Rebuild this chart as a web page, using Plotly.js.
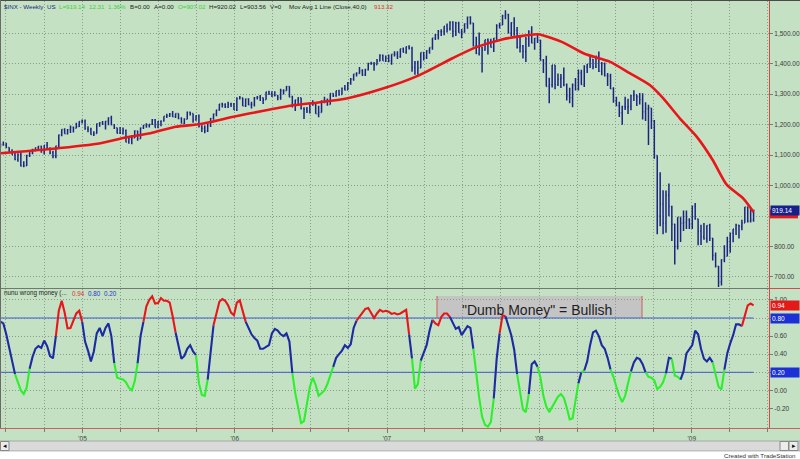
<!DOCTYPE html>
<html><head><meta charset="utf-8">
<script src="https://cdn.plot.ly/plotly-3.0.1.min.js"></script>
<style>html,body{margin:0;padding:0;background:#fff;}#chart{width:800px;height:459px;}</style>
</head><body><div id="chart"></div>
<script>
// ---------- DATA ----------
const firstWeek = '2004-06-18';   // weekly bars, one per week
const opens = [
1136,1135,1134,1125,1113,1101,1086,1102,1064,1065,1099,1108,1114,1124,1129,1110,1132,1122,1108,1096,1130,1166,1184,1170,1183,1191,1188,1194,1210,
1212,1186,1184,1168,1171,1203,1206,1201,1211,1222,1200,1190,1172,1172,1181,1143,1153,1156,1179,1154,1189,1198,1197,1201,1216,1191,1211,1212,1228,1229,1234,1226,1237,1220,1205,1218,1241,1237,1215,1229,1195,1187,1179,1199,1220,1235,1248,1268,1265,1259,1267,1268,
1248,1285,1288,1261,1284,1265,1267,1288,1290,1288,1282,1307,1302,1295,1296,1289,1311,1311,1325,1291,1267,1281,1288,1253,1251,1245,1270,1265,1236,1240,1278,1280,1266,1302,1295,1311,1299,1319,1314,1336,1349,1366,1368,1377,1364,1380,1401,1400,1397,1409,1427,1410,
1418,1410,1431,1431,1423,1449,1438,1456,1451,1388,1402,1386,1437,1421,1443,1453,1485,1495,1506,1505,1523,1515,1536,1507,1533,1503,1503,1531,1553,1534,1459,1434,1453,1445,1479,1474,1454,1484,1525,1527,1557,1562,1501,1535,1509,1453,1458,1440,1481,1504,1468,1484,
1478,1411,1401,1325,1331,1396,1332,1349,1353,1331,1294,1288,1330,1316,1370,1332,1390,1398,1414,1389,1425,1375,1400,1361,1360,1318,1278,1262,1239,1260,1257,1260,1296,1298,1292,1283,1242,1252,1255,1213,1099,899,940,877,968,931,873,800,896,876,879,887,
873,932,890,850,832,826,869,827,770,735,683,756,768,816,843,857,870,866,877,930,883,887];
const highs = [
1138,1145,1141,1126,1119,1108,1106,1111,1080,1101,1109,1121,1125,1130,1131,1132,1143,1126,1114,1131,1168,1185,1188,1186,1197,1194,1206,1211,1217,
1217,1195,1190,1178,1204,1208,1212,1212,1224,1229,1201,1190,1192,1191,1184,1161,1165,1182,1180,1191,1199,1205,1202,1219,1219,1212,1212,1228,1236,1238,1245,1237,1237,1224,1221,1243,1242,1237,1231,1233,1198,1197,1204,1222,1236,1249,1268,1272,1270,1275,1272,1271,
1290,1294,1288,1286,1287,1275,1291,1294,1297,1289,1308,1311,1310,1310,1297,1318,1316,1327,1326,1295,1282,1290,1288,1257,1258,1272,1280,1273,1262,1280,1292,1286,1303,1303,1311,1315,1322,1330,1340,1353,1366,1372,1389,1382,1384,1403,1407,1406,1416,1431,1430,1427,
1430,1431,1441,1441,1449,1453,1457,1461,1456,1409,1410,1437,1439,1444,1453,1485,1498,1511,1513,1523,1532,1540,1540,1538,1538,1514,1532,1555,1556,1534,1489,1503,1456,1479,1483,1482,1485,1530,1535,1561,1576,1564,1536,1553,1521,1492,1462,1488,1510,1523,1485,1498,
1478,1416,1426,1354,1396,1396,1368,1366,1388,1335,1321,1335,1353,1381,1380,1395,1399,1423,1416,1426,1440,1406,1404,1370,1367,1323,1292,1275,1262,1292,1285,1297,1313,1298,1304,1303,1274,1265,1255,1215,1099,1044,985,984,1007,934,875,896,896,918,918,893,
934,943,891,871,877,870,875,828,780,736,758,804,832,845,857,875,871,888,930,930,924,920.02];
const lows = [
1126,1131,1123,1107,1101,1083,1078,1063,1060,1064,1094,1103,1113,1116,1108,1102,1121,1103,1090,1090,1127,1162,1170,1168,1173,1174,1188,1192,1204,
1183,1175,1167,1163,1171,1193,1199,1184,1198,1198,1186,1171,1172,1168,1142,1137,1136,1156,1147,1154,1186,1190,1191,1199,1191,1188,1195,1210,1222,1225,1225,1222,1218,1205,1201,1218,1230,1206,1213,1191,1176,1172,1176,1192,1216,1228,1246,1256,1255,1255,1258,1248,
1245,1283,1261,1258,1264,1253,1260,1283,1278,1268,1282,1297,1291,1294,1280,1282,1299,1311,1290,1256,1245,1262,1250,1219,1238,1237,1262,1236,1224,1240,1270,1262,1266,1291,1292,1295,1299,1312,1314,1331,1344,1358,1367,1360,1360,1378,1397,1377,1397,1408,1410,1406,
1405,1397,1424,1416,1420,1437,1433,1447,1374,1364,1364,1386,1411,1416,1433,1446,1478,1480,1491,1494,1503,1509,1487,1491,1502,1484,1503,1515,1529,1457,1432,1427,1371,1443,1430,1453,1439,1476,1516,1527,1546,1500,1490,1492,1450,1437,1417,1406,1456,1467,1446,1468,
1411,1370,1325,1270,1322,1316,1327,1320,1326,1279,1270,1257,1312,1312,1331,1324,1370,1386,1382,1386,1373,1362,1358,1327,1317,1272,1261,1225,1200,1248,1235,1247,1278,1261,1266,1217,1212,1133,1186,1088,840,866,840,845,899,818,741,790,815,851,857,857,
857,888,804,805,822,812,818,754,731,667,672,748,768,779,814,838,826,853,878,879,879,881];
const closes = [
1135,1134,1125,1113,1101,1086,1102,1064,1065,1099,1108,1114,1124,1129,1110,1132,1122,1108,1096,1130,1166,1184,1170,1183,1191,1188,1194,1210,1212,
1186,1184,1168,1171,1203,1206,1201,1211,1222,1200,1190,1172,1172,1181,1143,1153,1156,1179,1154,1189,1198,1197,1201,1216,1191,1211,1212,1228,1229,1234,1226,1237,1220,1205,1218,1241,1237,1215,1229,1195,1187,1179,1199,1220,1235,1248,1268,1265,1259,1267,1268,1248,
1285,1288,1261,1284,1265,1267,1288,1290,1288,1282,1307,1302,1295,1296,1289,1311,1311,1325,1291,1267,1281,1288,1253,1251,1245,1270,1265,1236,1240,1278,1280,1266,1302,1295,1311,1299,1319,1314,1336,1349,1366,1368,1377,1364,1380,1401,1400,1397,1409,1427,1410,1418,
1410,1431,1431,1423,1449,1438,1456,1451,1388,1402,1386,1437,1421,1443,1453,1485,1495,1506,1505,1523,1515,1536,1507,1533,1503,1503,1531,1553,1534,1459,1434,1453,1445,1479,1474,1454,1484,1525,1527,1557,1562,1501,1535,1509,1453,1458,1440,1481,1504,1468,1484,1478,
1411,1401,1325,1331,1396,1332,1349,1353,1331,1294,1288,1330,1316,1370,1332,1390,1398,1414,1389,1425,1375,1400,1361,1360,1318,1278,1262,1239,1260,1257,1260,1296,1298,1292,1283,1242,1252,1255,1213,1099,899,940,877,968,931,873,800,896,876,879,887,873,
932,890,850,832,826,869,827,770,735,683,756,768,816,843,857,870,866,877,930,883,887,919.14];

// 40-week moving average
const maDates = ['2004-06-18','2004-10-16','2005-02-13','2005-04-14','2005-06-13','2005-08-12','2005-10-11','2005-12-29','2006-03-08','2006-05-14','2006-07-20','2006-09-23','2006-12-28','2007-03-17','2007-06-07','2007-07-31','2007-10-04','2007-11-11','2007-12-29','2008-02-24','2008-04-20','2008-06-18','2008-08-05','2008-09-22','2008-10-24','2008-12-03','2009-01-13','2009-02-20','2009-03-26','2009-05-04','2009-05-29'];
const maValues = [1106,1120,1139,1158,1172,1193,1202,1226,1245,1262,1273,1285,1321,1361,1418,1453,1480,1489,1497,1472,1432,1407,1369,1330,1287,1221,1160,1084,1002,958,913.32];

// "nunu wrong money" indicator, one value per week
const wrongMoney = [
0.76,0.74,0.62,0.46,0.30,0.18,0.09,0.00,-0.04,0.03,
0.24,0.37,0.46,0.49,0.47,0.55,0.49,0.38,0.355,0.60,
0.88,0.99,0.86,0.685,0.69,0.77,0.85,0.88,0.76,0.54,
0.44,0.32,0.43,0.63,0.69,0.60,0.69,0.74,0.60,0.30,
0.14,0.13,0.12,0.09,0.03,0.00,0.10,0.30,0.60,0.76,
0.93,1.00,1.04,0.96,0.965,1.02,0.99,0.99,0.97,0.82,
0.64,0.50,0.35,0.38,0.46,0.50,0.43,0.39,0.08,-0.05,
-0.06,0.12,0.45,0.72,0.86,0.98,1.01,0.99,0.94,0.86,
0.83,0.97,0.995,0.86,0.76,0.69,0.62,0.58,0.55,0.46,
0.46,0.48,0.50,0.63,0.68,0.66,0.62,0.60,0.63,0.54,
0.19,-0.03,-0.19,-0.36,-0.34,-0.15,0.04,0.14,0.06,-0.06,
-0.03,0.00,0.07,0.17,0.26,0.36,0.40,0.44,0.50,0.47,
0.51,0.69,0.77,0.81,0.85,0.90,0.91,0.85,0.80,0.85,
0.89,0.87,0.88,0.87,0.845,0.855,0.84,0.85,0.87,0.89,
0.62,0.35,0.02,0.07,0.33,0.41,0.50,0.66,0.78,0.74,
0.72,0.81,0.85,0.85,0.81,0.75,0.68,0.70,0.61,0.66,
0.71,0.69,0.46,0.16,-0.08,-0.29,-0.38,-0.40,-0.35,-0.09,
0.35,0.63,0.83,0.82,0.71,0.61,0.45,0.18,-0.04,-0.21,
-0.24,-0.04,0.29,0.32,0.26,0.14,-0.06,-0.18,-0.24,-0.18,
-0.13,-0.07,-0.04,-0.08,-0.19,-0.32,-0.31,-0.11,0.08,0.20,
0.22,0.32,0.50,0.64,0.66,0.60,0.50,0.46,0.36,0.23,
0.15,0.04,-0.06,-0.13,-0.06,0.08,0.21,0.31,0.36,0.345,
0.29,0.20,0.15,0.14,0.11,0.015,0.04,0.09,0.19,0.36,
0.35,0.165,0.15,0.12,0.21,0.41,0.45,0.50,0.66,0.62,
0.46,0.35,0.32,0.36,0.31,0.19,0.04,0.01,0.23,0.41,
0.52,0.61,0.73,0.73,0.71,0.82,0.94,0.96,0.94];
// colour state of each week: r = red, b = blue, g = green
const wrongZone = (
"bbbbbbgggg"+"gbbbbbbbbb"+"rrrrrrrrrb"+"bbbbbbbbbb"+"ggggggggbb"+
"rrrrrrrrrr"+"rbbbbbbbgg"+"ggbbrrrrrr"+"rrrrrbbbbb"+"bbbbbbbbbb"+
"bggggggggg"+"gggggbbbbb"+"bbbrrrrrrr"+"rrrrrrrrrr"+"rbgggbbbbr"+
"rrrrrbbbbb"+"bbbggggggg"+"bbrrbbbbgg"+"ggbbbggggg"+"gggggggggb"+
"gbbbbbbbbb"+"gggggggbbb"+"bbgggggggb"+"bgggbbbbbb"+"bbbbbggggb"+
"bbbbbrrrr").split('');
const thresholds = [0.8, 0.2];
const yearTicks = ['2005-01-01','2006-01-01','2007-01-01','2008-01-01','2009-01-01'];
const yearLabels = ["'05","'06","'07","'08","'09"];
const priceTicks = [700,800,900,1000,1100,1200,1300,1400,1500];
const priceTickLabels = ['700.00','800.00','','1,000.00','1,100.00','1,200.00','1,300.00','1,400.00','1,500.00']; // 900 sits under the last-price box
const wmTicks = [-0.2,0,0.2,0.4,0.6,0.8,1.0];
const wmTickLabels = ['-0.20','0.00','','0.40','0.60','','1.00'];   // 0.20 / 0.80 sit under their boxes
const headerTexts = ['$INX - Weekly','US','L=919.14','12.31','1.36%','B=0.00','A=0.00','O=907.02','H=920.02','L=903.56','V=0','Mov Avg 1 Line (Close,40,0)','913.32'];
const subHeaderTexts = ['nunu wrong money (...','0.94','0.80','0.20'];
const noteText = '"Dumb Money" = Bullish';

// ---------- BUILD ----------
const dates = [];
const t0 = Date.parse(firstWeek + 'T00:00:00Z');
for (let i = 0; i < closes.length; i++) dates.push(new Date(t0 + i*7*86400000).toISOString().slice(0,10));

const FONT = 'Liberation Sans, Arial, sans-serif';
const NAVY = '#1b2680';
const RED = '#e8161a';
const BLUE = '#1d2aa2';
const GREEN = '#2cf02c';
const zoneColor = {r: RED, b: BLUE, g: GREEN};

const traces = [];
traces.push({type:'ohlc', x:dates, open:opens, high:highs, low:lows, close:closes,
  xaxis:'x', yaxis:'y', increasing:{line:{color:NAVY,width:1.5}}, decreasing:{line:{color:NAVY,width:1.5}},
  tickwidth:0.3, hoverinfo:'skip', showlegend:false});
traces.push({type:'scatter', mode:'lines', x:maDates, y:maValues, xaxis:'x', yaxis:'y',
  line:{color:RED, width:2.6, shape:'spline', smoothing:0.6}, hoverinfo:'skip', showlegend:false});
thresholds.forEach(v => traces.push({type:'scatter', mode:'lines', x:[dates[0], dates[dates.length-1]], y:[v,v],
  xaxis:'x', yaxis:'y2', line:{color:'#4258d0', width:1}, hoverinfo:'skip', showlegend:false}));
// coloured indicator runs
let runStart = 0;
for (let i = 1; i < wrongMoney.length; i++) {
  const c = wrongZone[i];
  const next = wrongZone[i+1];
  if (i === wrongMoney.length-1 || next !== c) {
    const xs = dates.slice(runStart, i+1), ys = wrongMoney.slice(runStart, i+1);
    traces.push({type:'scatter', mode:'lines', x:xs, y:ys, xaxis:'x', yaxis:'y2',
      line:{color:zoneColor[c], width:2.1}, hoverinfo:'skip', showlegend:false});
    runStart = i;
  }
}

// pixel helpers (plot area: x 0..769, y 1..428)
const PX = px => px/769;
const PY = py => (428-py)/427;

const annotations = [];
const headerX = [2,45,57,87,106,128,152,176,207,238,268,287,372];
const headerColor = [NAVY,NAVY,'#3ccf3c','#3ccf3c','#3ccf3c','#222','#222','#3ccf3c','#222','#222','#222','#222','#e03030'];
headerTexts.forEach((t,k) => annotations.push({xref:'paper', yref:'paper', x:PX(headerX[k]), y:PY(6), xanchor:'left', yanchor:'middle',
  text:t, showarrow:false, font:{family:FONT, size:6.2, color:headerColor[k]}}));
const subX = [2,70,86,102];
const subColor = ['#222','#e03030','#2233cc','#2233cc'];
subHeaderTexts.forEach((t,k) => annotations.push({xref:'paper', yref:'paper', x:PX(subX[k]), y:PY(293), xanchor:'left', yanchor:'middle',
  text:t, showarrow:false, font:{family:FONT, size:6.3, color:subColor[k]}}));
// value boxes on right axis
const lastMA = maValues[maValues.length-1], lastClose = closes[closes.length-1], lastWM = wrongMoney[wrongMoney.length-1];
function valBox(yref, y, text, bg) {
  annotations.push({xref:'paper', yref:yref, x:PX(770), y:y, xanchor:'left', yanchor:'middle', text:text, showarrow:false,
    width:26, align:'left', bgcolor:bg, borderpad:1, font:{family:FONT, size:6.5, color:'#ffffff'}});
}
valBox('y', lastClose, lastClose.toFixed(2), '#16208c');
valBox('y2', lastWM, lastWM.toFixed(2), '#e21a1a');
valBox('y2', thresholds[0], thresholds[0].toFixed(2), '#1c30d8');
valBox('y2', thresholds[1], thresholds[1].toFixed(2), '#1c30d8');
annotations.push({xref:'paper', yref:'paper', x:PX(537), y:PY(310), xanchor:'center', yanchor:'middle', text:noteText,
  showarrow:false, font:{family:FONT, size:14, color:'#1e1e1e'}});
annotations.push({xref:'paper', yref:'paper', x:PX(798), y:PY(455), xanchor:'right', yanchor:'middle', text:'Created with TradeStation',
  showarrow:false, font:{family:FONT, size:6.2, color:'#333'}});
annotations.push({xref:'paper', yref:'paper', x:PX(4.5), y:PY(446), xanchor:'center', yanchor:'middle', text:'◂',
  showarrow:false, font:{family:'DejaVu Sans', size:7, color:'#111'}});
annotations.push({xref:'paper', yref:'paper', x:PX(793.5), y:PY(446), xanchor:'center', yanchor:'middle', text:'▸',
  showarrow:false, font:{family:'DejaVu Sans', size:7, color:'#111'}});

const shapes = [
  // moving-average value marker (red strip peeking under the last-price box)
  {type:'rect', xref:'paper', yref:'y', x0:PX(770), x1:PX(798), y0:lastMA-21, y1:lastMA+8, fillcolor:'#e21a1a', line:{width:0}},
  {type:'rect', xref:'paper', yref:'paper', x0:PX(437), x1:PX(642), y0:PY(318), y1:PY(296), fillcolor:'#c4c4c4', line:{width:0}, layer:'below'},
  {type:'line', xref:'paper', yref:'paper', x0:PX(437), x1:PX(437), y0:PY(318), y1:PY(296), line:{color:'#cf5a5a', width:1}},
  {type:'line', xref:'paper', yref:'paper', x0:PX(642), x1:PX(642), y0:PY(318), y1:PY(296), line:{color:'#cf5a5a', width:1}},
  {type:'line', xref:'paper', yref:'paper', x0:0, x1:1, y0:PY(288.5), y1:PY(288.5), line:{color:'#6e7a6e', width:1}},
  {type:'line', xref:'paper', yref:'paper', x0:1, x1:PX(800), y0:PY(288.5), y1:PY(288.5), line:{color:'#d24a4a', width:1}},
  {type:'line', xref:'paper', yref:'paper', x0:PX(769.5), x1:PX(769.5), y0:PY(428), y1:PY(0), line:{color:'#d24a4a', width:1}},
  {type:'line', xref:'paper', yref:'paper', x0:0, x1:PX(800), y0:PY(428.5), y1:PY(428.5), line:{color:'#c86060', width:1}},
  {type:'line', xref:'paper', yref:'paper', x0:0, x1:PX(800), y0:PY(0.5), y1:PY(0.5), line:{color:'#4a4a4a', width:1}},
  {type:'line', xref:'paper', yref:'paper', x0:PX(0.5), x1:PX(0.5), y0:PY(428), y1:PY(0), line:{color:'#6a6a6a', width:1}},
  {type:'rect', xref:'paper', yref:'paper', x0:0, x1:PX(800), y0:PY(451), y1:PY(441), fillcolor:'#dadada', line:{color:'#a8a8a8', width:1}},
  {type:'rect', xref:'paper', yref:'paper', x0:0, x1:PX(800), y0:PY(460), y1:PY(451.5), fillcolor:'#ffffff', line:{width:0}},
  {type:'rect', xref:'paper', yref:'paper', x0:PX(0.5), x1:PX(9), y0:PY(450.5), y1:PY(441.5), fillcolor:'#ececec', line:{color:'#888', width:1}},
  {type:'rect', xref:'paper', yref:'paper', x0:PX(780), x1:PX(788.5), y0:PY(450.5), y1:PY(441.5), fillcolor:'#ececec', line:{color:'#888', width:1}},
  {type:'rect', xref:'paper', yref:'paper', x0:PX(789), x1:PX(798), y0:PY(450.5), y1:PY(441.5), fillcolor:'#ececec', line:{color:'#888', width:1}}
];

const GRID = '#8a9c8a';
const layout = {
  width:800, height:459, margin:{l:0, r:31, t:1, b:31, pad:0},
  paper_bgcolor:'#c5e1c4', plot_bgcolor:'#c5e1c4', showlegend:false,
  font:{family:FONT, size:6.5, color:'#333'},
  xaxis:{type:'date', range:['2004-06-17','2009-07-05'], anchor:'y2', domain:[0,1],
    tickmode:'array', tickvals:yearTicks, ticktext:yearLabels, tickfont:{family:FONT, size:6.5, color:'#3a3a3a'},
    ticks:'outside', ticklen:4, tickcolor:'#7a7a7a', showgrid:true, gridcolor:GRID, griddash:'1px,2px', gridwidth:1,
    minor:{dtick:'M3', tick0:'2004-01-01', showgrid:true, gridcolor:GRID, griddash:'1px,2px', gridwidth:1, ticks:'outside', ticklen:3, tickcolor:'#7a7a7a'},
    rangeslider:{visible:false}, showline:false, zeroline:false, fixedrange:true},
  yaxis:{domain:[PY(288),1], range:[663.6,1606.1], side:'right', anchor:'x', tickmode:'array', tickvals:priceTicks, ticktext:priceTickLabels,
    tickfont:{family:FONT, size:6.5, color:'#3a3a3a'}, ticks:'outside', ticklen:3, tickcolor:'#7a7a7a',
    showgrid:true, gridcolor:GRID, griddash:'1px,2px', zeroline:false, showline:false, fixedrange:true},
  yaxis2:{domain:[0,PY(289)], range:[-0.4155,1.1204], side:'right', anchor:'x', tickmode:'array', tickvals:wmTicks, ticktext:wmTickLabels,
    tickfont:{family:FONT, size:6.5, color:'#3a3a3a'}, ticks:'outside', ticklen:3, tickcolor:'#7a7a7a',
    showgrid:true, gridcolor:GRID, griddash:'1px,2px', zeroline:false, showline:false, fixedrange:true},
  annotations:annotations, shapes:shapes
};
Plotly.newPlot('chart', traces, layout, {staticPlot:true, displayModeBar:false});
</script></body></html>
